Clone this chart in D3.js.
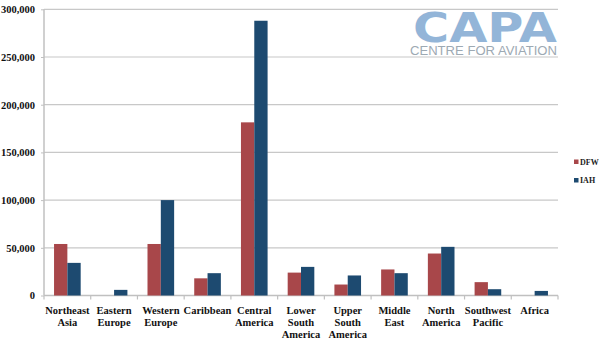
<!DOCTYPE html>
<html><head><meta charset="utf-8">
<script src="https://cdn.jsdelivr.net/npm/d3@7"></script>
<style>body{margin:0;background:#fff}svg{display:block}</style>
</head><body>
<svg id="c" width="609" height="343"></svg>
<script>
const categories = ["Northeast Asia","Eastern Europe","Western Europe","Caribbean","Central America","Lower South America","Upper South America","Middle East","North America","Southwest Pacific","Africa"];
const labelLines = [["Northeast","Asia"],["Eastern","Europe"],["Western","Europe"],["Caribbean"],["Central","America"],["Lower","South","America"],["Upper","South","America"],["Middle","East"],["North","America"],["Southwest","Pacific"],["Africa"]];
const seriesNames = ["DFW","IAH"];
const dfw = [54000, 0, 54000, 18000, 181500, 24000, 11500, 27300, 44000, 14000, 0];
const iah = [34200, 5900, 100000, 23400, 288000, 30000, 21000, 23400, 51000, 6600, 4800];
const yTicks = [0, 50000, 100000, 150000, 200000, 250000, 300000];
const colors = ["#A8474A", "#1D4A70"];

const SERIF = '"Liberation Serif", "DejaVu Serif", serif';
const svg = d3.select("#c");
const m = {l:44, r:51, t:9.3, b:47.5};
const W = 609, H = 343;
const x0 = d3.scaleBand().domain(categories).range([m.l, W - m.r]).padding(0);
const y = d3.scaleLinear().domain([0, 300000]).range([H - m.b, m.t]);
const fmt = d3.format(",");

// gridlines
svg.append("g").selectAll("line").data(yTicks.filter(d=>d>0)).join("line")
  .attr("x1", m.l).attr("x2", W - m.r)
  .attr("y1", d=>y(d)).attr("y2", d=>y(d))
  .attr("stroke", "#c8c8c8").attr("stroke-width", 1.2);

// logo
const logo = svg.append("g");
logo.append("rect").attr("x", 405).attr("y", 10.5).attr("width", 155).attr("height", 45).attr("fill", "#fff");
logo.append("text").attr("x", 485).attr("y", 41.5).attr("text-anchor", "middle")
  .style("font-family", "'DejaVu Sans', Arial, sans-serif").attr("font-weight", "900").attr("font-size", 40)
  .attr("fill", "#93B5D8").attr("textLength", 144).attr("lengthAdjust", "spacingAndGlyphs")
  .text("CAPA");
logo.append("text").attr("x", 483.5).attr("y", 54.5).attr("text-anchor", "middle")
  .style("font-family", "'Liberation Sans', Arial, sans-serif").attr("font-size", 13)
  .attr("fill", "#9DA9B3").attr("textLength", 147).attr("lengthAdjust", "spacingAndGlyphs")
  .text("CENTRE FOR AVIATION");

// y axis
const yAxis = svg.append("g").attr("transform", `translate(${m.l},0)`)
  .call(d3.axisLeft(y).tickValues(yTicks).tickFormat(fmt).tickSize(3).tickPadding(6));
yAxis.select(".domain").attr("stroke", "#c0c0c0").attr("stroke-width", 1.5).attr("d", `M0,${m.t}V${H-m.b}`);
yAxis.selectAll(".tick line").attr("stroke", "#c0c0c0");
yAxis.selectAll("text").style("font-family", SERIF).style("font-weight", "bold")
  .style("font-size", "10.5px").attr("fill", "#111");

// x axis
const xAxis = svg.append("g").attr("transform", `translate(0,${y(0)})`);
xAxis.append("line").attr("x1", m.l).attr("x2", W - m.r).attr("stroke", "#c0c0c0").attr("stroke-width", 1.5);
const bounds = categories.map(c => x0(c)).concat([W - m.r]);
xAxis.selectAll(".tk").data(bounds).join("line").attr("class", "tk")
  .attr("x1", d=>d).attr("x2", d=>d).attr("y1", 0).attr("y2", 4)
  .attr("stroke", "#c0c0c0").attr("stroke-width", 1.2);
const lab = xAxis.selectAll(".lab").data(categories).join("text").attr("class", "lab")
  .attr("x", d => x0(d) + x0.bandwidth()/2).attr("y", 18)
  .attr("text-anchor", "middle").style("font-family", SERIF).style("font-weight", "bold")
  .style("font-size", "10.5px").attr("fill", "#111");
lab.each(function(d, i){
  const t = d3.select(this);
  labelLines[i].forEach((ln, j) => {
    t.append("tspan").attr("x", x0(d) + x0.bandwidth()/2).attr("dy", j === 0 ? 0 : 12.3).text(ln);
  });
});

// bars
const bw = x0.bandwidth() * 0.285;
const off = x0.bandwidth() * 0.215;
const data = categories.map((c, i) => ({c, v:[dfw[i], iah[i]]}));
const g = svg.append("g");
data.forEach(d => {
  d.v.forEach((v, s) => {
    if (v <= 0) return;
    g.append("rect")
      .attr("x", x0(d.c) + off + s*bw).attr("width", bw)
      .attr("y", y(v)).attr("height", y(0) - y(v))
      .attr("fill", colors[s]);
  });
});

// legend
const leg = svg.append("g");
seriesNames.forEach((n, i) => {
  const yy = 163 + i*18.5;
  leg.append("rect").attr("x", 574).attr("y", yy - 3.5).attr("width", 4.5).attr("height", 4.5).attr("fill", colors[i]);
  leg.append("text").attr("x", 580).attr("y", yy + 1.5)
    .style("font-family", SERIF).style("font-weight", "bold").style("font-size", "8px")
    .attr("fill", "#222").text(n);
});
</script>
</body></html>
